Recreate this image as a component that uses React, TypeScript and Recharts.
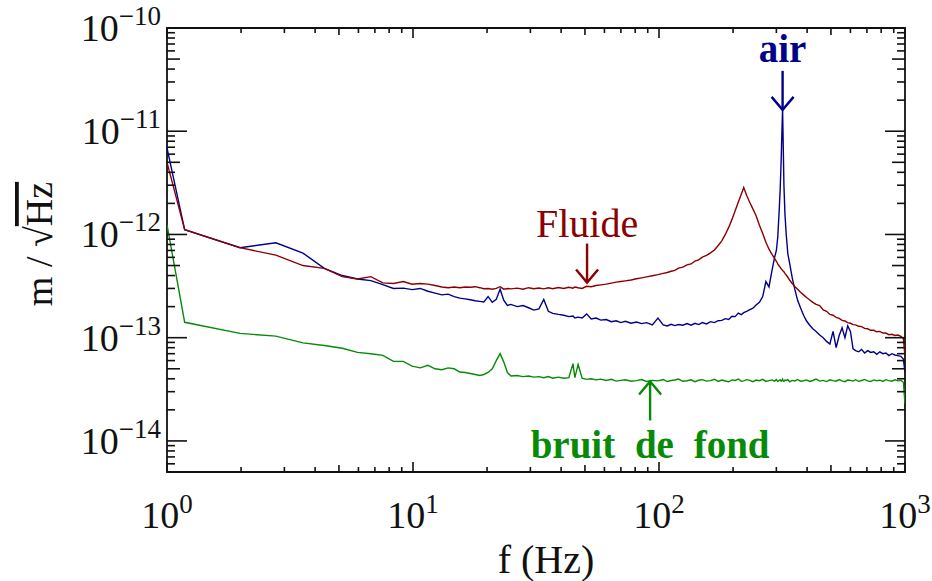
import { LineChart, Line, XAxis, YAxis, ReferenceArea, ReferenceDot, Label } from "recharts";

const UNIT = 1e-13;

const freq = [
  1, 1.18, 1.98, 2.77, 3.57, 4.36, 5.16, 5.95, 6.74, 7.54,
  8.33, 9.13, 9.92, 10.7, 11.5, 12.3, 13.1, 13.9, 14.7, 15.5,
  16.3, 17.1, 17.9, 18.7, 19.4, 20.2, 21.0, 21.8, 22.6, 23.4,
  24.2, 25.0, 26.5, 28, 29.5, 31, 32.5, 34, 35.5, 37,
  39, 41, 43, 44.7, 45.5, 46.9, 48.7, 50.8, 53, 55.5,
  58, 61, 64, 67, 70, 73, 77, 81, 85, 89,
  94, 99, 104, 108, 112, 116, 120, 125, 130, 135,
  140, 145, 150, 156, 162, 168, 174, 180, 186, 192,
  198, 204, 210, 216, 221, 227, 234, 241, 248, 256,
  264, 272, 280, 288, 295, 300, 304, 308, 311, 314,
  316, 318, 320, 322, 325, 329, 334, 340, 348, 357,
  366, 376, 387, 398, 410, 422, 435, 450, 465, 480,
  495, 510, 525, 540, 555, 570, 585, 600, 615, 630,
  648, 666, 685, 705, 725, 746, 768, 790, 813, 836,
  860, 885, 910, 936, 962, 985, 1000,
];

const air = [
  69, 11.1, 7.45, 8.3, 6.6, 4.7, 4.0, 3.7, 3.57, 3.27,
  3.0, 3.02, 2.92, 3.0, 2.82, 2.7, 2.6, 2.64, 2.5, 2.42,
  2.38, 2.33, 2.28, 2.25, 2.22, 2.5, 2.2, 2.35, 2.95, 2.3,
  2.05, 2.1, 2.0, 2.05, 1.95, 1.85, 1.9, 2.35, 1.8, 1.72,
  1.68, 1.65, 1.6, 1.62, 1.55, 1.58, 1.55, 1.7, 1.52, 1.55,
  1.48, 1.5, 1.43, 1.46, 1.4, 1.44, 1.38, 1.42, 1.37, 1.4,
  1.33, 1.55, 1.33, 1.3, 1.35, 1.31, 1.34, 1.32, 1.37, 1.32,
  1.38, 1.34, 1.4, 1.36, 1.43, 1.4, 1.46, 1.47, 1.53, 1.5,
  1.61, 1.6, 1.73, 1.67, 1.75, 1.8, 1.87, 1.93, 2.07, 2.2,
  2.5, 3.5, 3.1, 4.5, 6.0, 7.0, 9.5, 17, 28, 55,
  100, 165, 70, 30, 16, 10, 6.5, 5.2, 3.8, 2.9,
  2.3, 1.95, 1.65, 1.45, 1.32, 1.22, 1.15, 1.06, 1.0, 0.92,
  0.87, 1.15, 0.8, 1.05, 1.25, 1.0, 1.3, 1.15, 0.78, 0.75,
  0.73, 0.77, 0.71, 0.75, 0.72, 0.73, 0.69, 0.73, 0.7, 0.71,
  0.67, 0.7, 0.68, 0.67, 0.66, 0.62, 0.46,
];

const fluide = [
  50, 11.1, 7.45, 6.3, 5.0, 4.7, 3.9, 3.7, 3.9, 3.4,
  3.35, 3.5, 3.3, 3.35, 3.3, 3.2, 3.1, 3.05, 3.1, 3.05,
  3.1, 3.08, 3.12, 3.05, 2.98, 3.0, 2.95, 3.0, 3.12, 2.95,
  3.0, 2.97, 3.02, 2.95, 3.05, 2.98, 3.03, 2.97, 3.05, 2.98,
  3.06, 3.0, 3.08, 3.02, 3.1, 3.05, 3.0, 3.15, 3.12, 3.2,
  3.25, 3.3, 3.38, 3.45, 3.5, 3.55, 3.62, 3.72, 3.8, 3.88,
  3.98, 4.08, 4.2, 4.28, 4.4, 4.48, 4.72, 4.82, 5.08, 5.18,
  5.52, 5.68, 6.03, 6.27, 6.63, 7.08, 7.82, 8.68, 10.0, 11.7,
  14.0, 17.0, 20.5, 24.5, 28.5, 24, 20.4, 17.6, 15.3, 12.3,
  10.2, 8.4, 7.2, 6.4, 5.85, 5.5, 5.2, 4.95, 4.8, 4.65,
  4.55, 4.5, 4.4, 4.35, 4.2, 4.05, 3.85, 3.6, 3.35, 3.12,
  2.95, 2.75, 2.6, 2.45, 2.32, 2.2, 2.1, 2.05, 1.86, 1.8,
  1.68, 1.65, 1.57, 1.54, 1.47, 1.45, 1.4, 1.38, 1.34, 1.33,
  1.29, 1.28, 1.23, 1.22, 1.18, 1.18, 1.14, 1.15, 1.11, 1.11,
  1.07, 1.08, 1.05, 1.06, 1.03, 0.98, 0.66,
];

const fond = [
  12.4, 1.41, 1.10, 1.035, 0.89, 0.84, 0.79, 0.72, 0.70, 0.675,
  0.59, 0.59, 0.53, 0.51, 0.54, 0.5, 0.49, 0.51, 0.5, 0.465,
  0.46, 0.45, 0.44, 0.43, 0.44, 0.46, 0.5, 0.6, 0.70, 0.58,
  0.46, 0.425, 0.43, 0.42, 0.425, 0.415, 0.42, 0.41, 0.42, 0.405,
  0.415, 0.405, 0.41, 0.56, 0.41, 0.55, 0.405, 0.395, 0.4, 0.39,
  0.397, 0.385, 0.395, 0.38, 0.386, 0.391, 0.379, 0.384, 0.393, 0.377,
  0.386, 0.382, 0.394, 0.376, 0.385, 0.389, 0.397, 0.378, 0.383, 0.391,
  0.375, 0.387, 0.392, 0.38, 0.384, 0.396, 0.377, 0.389, 0.381, 0.374,
  0.39, 0.385, 0.398, 0.378, 0.382, 0.392, 0.386, 0.375, 0.389, 0.383,
  0.395, 0.377, 0.384, 0.39, 0.38, 0.393, 0.376, 0.387, 0.391, 0.379,
  0.384, 0.396, 0.38, 0.377, 0.389, 0.385, 0.392, 0.374, 0.386, 0.381,
  0.394, 0.379, 0.383, 0.39, 0.377, 0.385, 0.397, 0.38, 0.386, 0.376,
  0.391, 0.384, 0.379, 0.393, 0.382, 0.375, 0.389, 0.386, 0.38, 0.392,
  0.378, 0.385, 0.394, 0.381, 0.376, 0.39, 0.383, 0.388, 0.377, 0.392,
  0.384, 0.379, 0.391, 0.382, 0.386, 0.37, 0.23,
];

const xTicks = [
  1, 2, 3, 4, 5, 6, 7, 8, 9,
  10, 20, 30, 40, 50, 60, 70, 80, 90,
  100, 200, 300, 400, 500, 600, 700, 800, 900, 1000,
];

const yTicks = [
  5e-15, 6e-15, 7e-15, 8e-15, 9e-15,
  1e-14, 2e-14, 3e-14, 4e-14, 5e-14, 6e-14, 7e-14, 8e-14, 9e-14,
  1e-13, 2e-13, 3e-13, 4e-13, 5e-13, 6e-13, 7e-13, 8e-13, 9e-13,
  1e-12, 2e-12, 3e-12, 4e-12, 5e-12, 6e-12, 7e-12, 8e-12, 9e-12,
  1e-11, 2e-11, 3e-11, 4e-11, 5e-11, 6e-11, 7e-11, 8e-11, 9e-11,
  1e-10,
];

// annotation arrow tips: [frequency, amplitude]
const airTip = [318, 1.61e-11];
const fluideTip = [51, 3.42e-13];
const fondTip = [92, 3.77e-14];

const BLUE = "#00008b";
const RED = "#8b0000";
const GREEN = "#078a07";
const INK = "#111";
const FONT = "'Liberation Serif', 'DejaVu Serif', serif";

const PLOT_W = 738;
const PLOT_H = 444;

const data = freq.map((f, i) => ({
  f,
  air: air[i] * UNIT,
  fluide: fluide[i] * UNIT,
  fond: fond[i] * UNIT,
}));

const tickKind = (v: number) => {
  const e = Math.floor(Math.log10(v) + 1e-9);
  const m = Math.round(v / Math.pow(10, e));
  return m === 1 ? "major" : m === 5 ? "half" : "minor";
};

const XTick = (props: any) => {
  const { x, y, payload } = props;
  const kind = tickKind(payload.value);
  const len = kind === "major" ? 10 : kind === "half" ? 7 : 5;
  const exp = Math.round(Math.log10(payload.value));
  return (
    <g>
      <line x1={x} x2={x} y1={y} y2={y - len} stroke={INK} strokeWidth={1.6} />
      <line x1={x} x2={x} y1={y - PLOT_H} y2={y - PLOT_H + len} stroke={INK} strokeWidth={1.6} />
      {kind === "major" && (
        <text x={x} y={y + 56} textAnchor="middle" fontFamily={FONT} fontSize={38} fill={INK}>
          10
          <tspan dy={-15} fontSize={27}>{exp}</tspan>
        </text>
      )}
    </g>
  );
};

const YTick = (props: any) => {
  const { x, y, payload } = props;
  const kind = tickKind(payload.value);
  const len = kind === "major" ? 20 : kind === "half" ? 13 : 8;
  const exp = Math.round(Math.log10(payload.value));
  return (
    <g>
      <line x1={x} x2={x + len} y1={y} y2={y} stroke={INK} strokeWidth={1.6} />
      <line x1={x + PLOT_W} x2={x + PLOT_W - len} y1={y} y2={y} stroke={INK} strokeWidth={1.6} />
      {kind === "major" && (
        <text x={x - 6} y={y + 13} textAnchor="end" fontFamily={FONT} fontSize={38} fill={INK}>
          10
          <tspan dy={-16} fontSize={27}>{"\u2212" + Math.abs(exp)}</tspan>
        </text>
      )}
    </g>
  );
};

const Arrow = ({ cx, cy, up, color, text, textDy, bold }: any) => {
  const s = up ? 1 : -1;
  return (
    <g>
      <line x1={cx} x2={cx} y1={cy} y2={cy + s * 39} stroke={color} strokeWidth={2.4} />
      <polyline
        points={`${cx - 11},${cy + s * 13} ${cx},${cy} ${cx + 11},${cy + s * 13}`}
        fill="none"
        stroke={color}
        strokeWidth={2.4}
      />
      <text
        x={cx}
        y={cy + textDy}
        textAnchor="middle"
        fontFamily={FONT}
        fontWeight={bold ? "bold" : "normal"}
        fontSize={bold ? 39 : 40}
        fill={color}
        wordSpacing={bold ? 10 : 0}
      >
        {text}
      </text>
    </g>
  );
};

export default function App() {
  return (
    <>
      <style>{"body{margin:0}"}</style>
      <LineChart width={932} height={581} data={data} margin={{ top: 28, right: 27, bottom: 0, left: 0 }}>
        <XAxis
          dataKey="f"
          type="number"
          scale="log"
          domain={[1, 1000]}
          allowDataOverflow
          ticks={xTicks}
          interval={0}
          tick={<XTick />}
          tickSize={0}
          tickMargin={0}
          tickLine={false}
          axisLine={false}
          height={109}
        >
          <Label
            content={() => (
              <text x={546} y={573} textAnchor="middle" fontFamily={FONT} fontSize={40} fill={INK}>
                f (Hz)
              </text>
            )}
          />
        </XAxis>
        <YAxis
          type="number"
          scale="log"
          domain={[5e-15, 1e-10]}
          allowDataOverflow
          ticks={yTicks}
          interval={0}
          tick={<YTick />}
          tickSize={0}
          tickMargin={0}
          tickLine={false}
          axisLine={false}
          width={167}
        >
          <Label
            content={() => (
              <text
                x={52}
                y={244}
                transform="rotate(-90, 52, 244)"
                textAnchor="middle"
                fontFamily={FONT}
                fontSize={38}
                fill={INK}
              >
                m / √<tspan textDecoration="overline">Hz</tspan>
              </text>
            )}
          />
        </YAxis>
        <ReferenceArea x1={1} x2={1000} y1={5e-15} y2={1e-10} fill="none" stroke={INK} strokeWidth={1.8} />
        <Line dataKey="fond" stroke={GREEN} strokeWidth={1.4} dot={false} isAnimationActive={false} />
        <Line dataKey="air" stroke={BLUE} strokeWidth={1.4} dot={false} isAnimationActive={false} />
        <Line dataKey="fluide" stroke={RED} strokeWidth={1.4} dot={false} isAnimationActive={false} />
        <ReferenceDot
          x={airTip[0]}
          y={airTip[1]}
          shape={(p: any) => <Arrow cx={p.cx} cy={p.cy} color={BLUE} text="air" textDy={-48} bold />}
        />
        <ReferenceDot
          x={fluideTip[0]}
          y={fluideTip[1]}
          shape={(p: any) => <Arrow cx={p.cx} cy={p.cy} color={RED} text="Fluide" textDy={-46} />}
        />
        <ReferenceDot
          x={fondTip[0]}
          y={fondTip[1]}
          shape={(p: any) => <Arrow cx={p.cx} cy={p.cy} up color={GREEN} text="bruit de fond" textDy={77} bold />}
        />
      </LineChart>
    </>
  );
}
